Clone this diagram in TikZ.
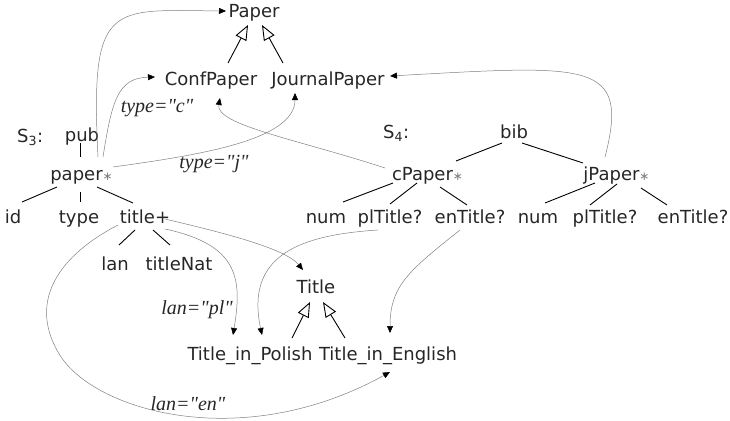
\documentclass[tikz,border=0pt]{standalone}
\usepackage{fontspec}
\setmainfont{DejaVu Sans}
\newfontfamily\condfont{Liberation Serif}
\usetikzlibrary{arrows.meta}

\tikzset{
    label text/.style={font=\fontsize{18}{20}\selectfont, text=black!85, inner sep=0pt, anchor=base},
    cond/.style={font=\condfont\itshape\fontsize{20}{22}\selectfont, text=black!85, inner sep=0pt, anchor=base},
    tree/.style={black, line width=0.9pt},
    isa/.style={black, line width=0.9pt, -{Triangle[open, fill=white, length=15pt, width=12pt]}},
    link/.style={gray, line width=0.5pt, -{Triangle[length=7pt, width=6pt, color=black]}},
}
% grey repetition mark after an element name
\newcommand{\rep}{{\fontsize{12}{12}\selectfont\textcolor{gray}{∗}}}

\begin{document}
\begin{tikzpicture}[x=1pt, y=-1pt, every node/.style={label text}]
    \useasboundingbox (0,0) rectangle (730,420);

    % Class hierarchies
    \node (Paper) at (254,18) {Paper};
    \node (ConfPaper) at (211,85) {ConfPaper};
    \node (JournalPaper) at (328,85) {JournalPaper};
    \node (Title) at (316,293) {Title};
    \node (TitlePl) at (250,360) {Title\_in\_Polish};
    \node (TitleEn) at (388,360) {Title\_in\_English};

    \draw[isa] ([shift={(17,-22)}]ConfPaper.base) -- ([shift={(-6,7)}]Paper.base);
    \draw[isa] ([shift={(-45,-22)}]JournalPaper.base) -- ([shift={(8,7)}]Paper.base);
    \draw[isa] ([shift={(42,-22)}]TitlePl.base) -- ([shift={(-6,9)}]Title.base);
    \draw[isa] ([shift={(-43,-22)}]TitleEn.base) -- ([shift={(7,9)}]Title.base);

    % Schema S3
    \node[anchor=base west] (S3) at (17,142) {S\textsubscript{3}:};
    \node (pub) at (82,141) {pub};
    \node (paper) at (81.5,180) {paper\rep};
    \node (id) at (13,223) {id};
    \node (type) at (79,223) {type};
    \node (title) at (145,223) {title+};
    \node (lan) at (115,270) {lan};
    \node (titleNat) at (179,270) {titleNat};

    % Schema S4
    \node[anchor=base west] (S4) at (383,138) {S\textsubscript{4}:};
    \node (bib) at (514,138) {bib};
    \node (cPaper) at (427.5,180) {cPaper\rep};
    \node (jPaper) at (616.5,180) {jPaper\rep};
    \foreach \n/\x/\t in {cNum/326/num, cPl/390/plTitle?, cEn/470/enTitle?,
                          jNum/538/num, jPl/605/plTitle?, jEn/693/enTitle?} {
        \node (\n) at (\x,223) {\t};
    }

    % Tree edges
    \foreach \a/\sa/\b/\sb in {pub/{-2,2}/paper/{-1.5,-23},
                               paper/{-24.5,7}/id/{9,-21},
                               paper/{-1.5,12}/type/{1,-21},
                               paper/{15.5,7}/title/{-12,-20},
                               title/{-10,7}/lan/{4,-25},
                               title/{8,7}/titleNat/{-9,-25},
                               bib/{-12,5}/cPaper/{28.5,-19},
                               bib/{8,5}/jPaper/{-33.5,-17},
                               cPaper/{-34.5,3}/cNum/{17,-21},
                               cPaper/{-10.5,3}/cPl/{0,-19},
                               cPaper/{12.5,7}/cEn/{-3,-18},
                               jPaper/{-21.5,3}/jNum/{7,-20},
                               jPaper/{0.5,4}/jPl/{-15,-18},
                               jPaper/{24.5,8}/jEn/{-26,-18}} {
        \draw[tree] ([shift={(\sa)}]\a.base) -- ([shift={(\sb)}]\b.base);
    }

    % Mappings to classes
    \draw[link] ([shift={(16.5,-23)}]paper.base) .. controls (90,0) and (110,10) .. ([shift={(-28,-7)}]Paper.base);
    \draw[link] ([shift={(21.5,-23)}]paper.base) .. controls (112,100) and (118,78) .. ([shift={(-56,-8)}]ConfPaper.base);
    \draw[link] ([shift={(31.5,-13)}]paper.base) .. controls (200,155) and (295,140) .. ([shift={(-33,8)}]JournalPaper.base);
    \draw[link] ([shift={(-42.5,-12)}]cPaper.base) .. controls (300,140) and (215,125) .. ([shift={(9,13)}]ConfPaper.base);
    \draw[link] ([shift={(-11.5,-23)}]jPaper.base) .. controls (630,60) and (590,65) .. ([shift={(62,-9)}]JournalPaper.base);
    \draw[link] ([shift={(20,-4)}]title.base) .. controls (220,232) and (285,248) .. ([shift={(-13,-23)}]Title.base);
    \draw[link] ([shift={(20,6)}]title.base) .. controls (240,245) and (242,280) .. ([shift={(-17,-25)}]TitlePl.base);
    \draw[link] ([shift={(-27,2)}]title.base) .. controls (60,255) and (28,300) .. (58,352)
        .. controls (90,410) and (240,455) .. ([shift={(2,12)}]TitleEn.base);
    \draw[link] ([shift={(-12,7)}]cPl.base) .. controls (300,235) and (245,255) .. ([shift={(12,-25)}]TitlePl.base);
    \draw[link] ([shift={(-10,7)}]cEn.base) .. controls (410,270) and (390,285) .. ([shift={(2,-27)}]TitleEn.base);

    % Conditions
    \node[cond] (condC) at (157,112) {type="c"};
    \node[cond] (condJ) at (214,168) {type="j"};
    \node[cond] (condPl) at (197,314) {lan="pl"};
    \node[cond] (condEn) at (188,410) {lan="en"};
\end{tikzpicture}
\end{document}
